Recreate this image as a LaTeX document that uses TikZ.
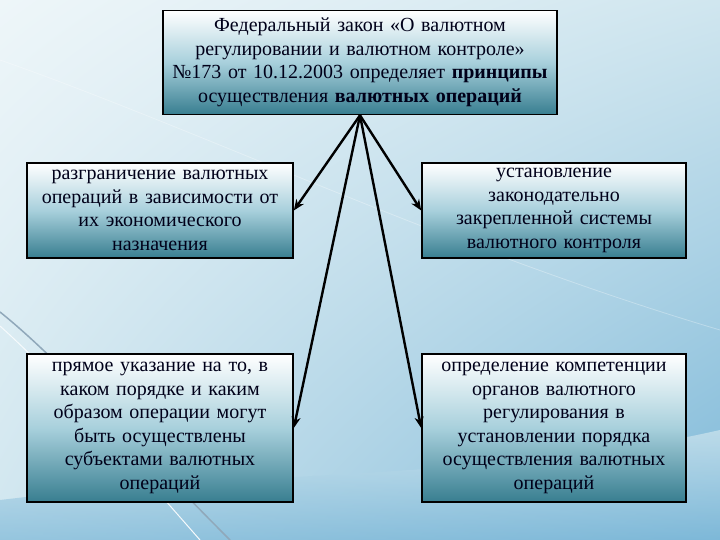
\documentclass[tikz,border=0pt]{standalone}
\usepackage{fontspec}
\setmainfont{Liberation Serif}
\usetikzlibrary{arrows.meta,shadings}
\definecolor{bgpale}{RGB}{238,246,249}
\definecolor{bgblue}{RGB}{208,230,239}
\definecolor{bgdeep}{RGB}{125,184,216}
\definecolor{boxteal}{RGB}{56,126,144}
\definecolor{boxmid}{RGB}{168,208,220}
\definecolor{swoosh}{RGB}{70,110,140}
\tikzset{
	infobox/.style={draw=black, line width=1.6pt, top color=white, bottom color=boxteal, middle color=boxmid,
		align=center, inner sep=2pt, text=black!90!blue, font=\fontsize{20}{23.5}\selectfont},
	linkarrow/.style={line width=2.4pt, -{Stealth[length=11pt,width=9pt]}}
}

\begin{document}
\begin{tikzpicture}[x=1pt, y=-1pt]
		%%%%% BACKGROUND %%%%%
		\useasboundingbox (0, 0) rectangle (720, 540);
		\shade[upper left=bgpale, upper right=bgblue, lower left=bgblue, lower right=bgdeep] (0, 0) rectangle (720, 540);
		\shade[top color=bgblue, bottom color=bgdeep, opacity=0.7] (0, 500) .. controls (250, 470) and (500, 480) .. (720, 430) -- (720, 540) -- (0, 540) -- cycle;
		\draw[line width=1.5pt, color=swoosh!60] (0, 312) .. controls (60, 360) and (140, 450) .. (230, 540);
		\draw[line width=1pt, color=white!80!bgblue] (0, 326) .. controls (60, 380) and (130, 460) .. (200, 540);
		\draw[line width=0.8pt, color=white, opacity=0.3] (0, 60) .. controls (200, 130) and (450, 250) .. (720, 330);
		
		%%%%% BOXES %%%%%
		\node[infobox, minimum width=394pt, minimum height=104pt, text width=390pt] (law) at (360, 62.5)
			{Федеральный закон «О валютном\\ регулировании и валютном контроле»\\ №173 от 10.12.2003 определяет \textbf{принципы}\\ осуществления \textbf{валютных операций}};
		
		\node[infobox, minimum width=266pt, minimum height=95pt, text width=262pt] (split) at (160, 210.5)
			{разграничение валютных\\ операций в зависимости от\\ их экономического\\ назначения};
		\node[infobox, minimum width=264pt, minimum height=95pt, text width=260pt] (control) at (554, 210.5)
			{установление\\ законодательно\\ закрепленной системы\\ валютного контроля};
		
		\node[infobox, minimum width=266pt, minimum height=148pt, text width=262pt] (order) at (160, 428)
			{прямое указание на то, в\\ каком порядке и каким\\ образом операции могут\\ быть осуществлены\\ субъектами валютных\\ операций};
		\node[infobox, minimum width=264pt, minimum height=148pt, text width=260pt] (organs) at (554, 428)
			{определение компетенции\\ органов валютного\\ регулирования в\\ установлении порядка\\ осуществления валютных\\ операций};
		
		%%%%% ARROWS %%%%%
		\draw[linkarrow] (law.south) -- (split.east);
		\draw[linkarrow] (law.south) -- (control.west);
		\draw[linkarrow] (law.south) -- (order.east);
		\draw[linkarrow] (law.south) -- (organs.west);
	\end{tikzpicture}
\end{document}
